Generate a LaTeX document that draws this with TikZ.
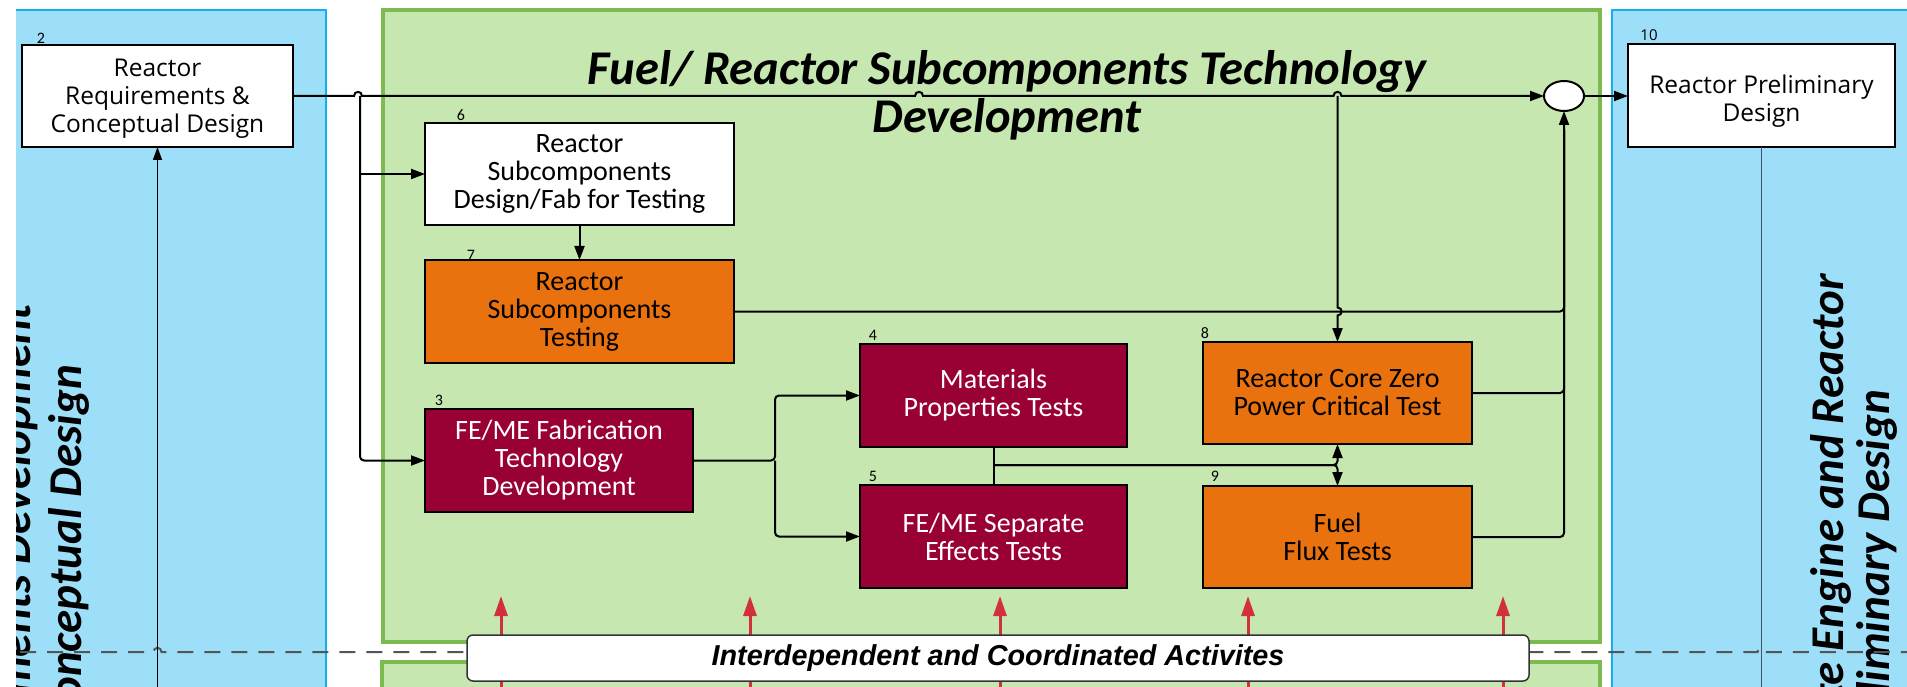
\documentclass[tikz,border=0pt]{standalone}
\usepackage{fontspec}
\setmainfont{Carlito}
\newfontfamily\opensans{Open Sans}
\newfontfamily\arialish{Liberation Sans}
\usetikzlibrary{arrows.meta,shapes.geometric}

\definecolor{laneblue}{HTML}{9DDFF8}
\definecolor{laneblueedge}{HTML}{12B0EE}
\definecolor{lanegreen}{HTML}{C6E8B0}
\definecolor{lanegreenedge}{HTML}{7DBB50}
\definecolor{testorange}{HTML}{E9710E}
\definecolor{devmaroon}{HTML}{990033}
\definecolor{linkred}{HTML}{D3303F}
\definecolor{dashgray}{HTML}{555555}
\definecolor{slateline}{HTML}{3D5566}
\definecolor{banneredge}{HTML}{333333}

\begin{document}
\begin{tikzpicture}[x=1pt,y=-1pt,
  every node/.style={inner sep=0pt,outer sep=0pt},
  procbox/.style={draw=black,line width=2.4pt,align=center,
    font=\fontsize{28}{28}\selectfont},
  whitebox/.style={procbox,fill=white},
  orangebox/.style={procbox,fill=testorange,text=black},
  maroonbox/.style={procbox,fill=devmaroon,text=white},
  reqbox/.style={draw=black,line width=2pt,fill=white,align=center,
    font=\opensans\fontsize{24.5}{28}\selectfont},
  num/.style={font=\fontsize{16}{16}\selectfont},
  lanetitle/.style={font=\bfseries\itshape\fontsize{47}{47}\selectfont},
  conn/.style={draw=black,line width=2pt},
  tip/.style={-{Triangle[length=14pt,width=10pt]}},
  redlink/.style={draw=linkred,line width=3pt,-{Triangle[length=20pt,width=13pt]}},
  lanedash/.style={draw=dashgray,line width=2pt,dash pattern=on 16pt off 11pt},
  banner/.style={draw=banneredge,line width=1.5pt,fill=white,rounded corners=6pt,
    font=\arialish\bfseries\itshape\fontsize{28.8}{28.8}\selectfont}
]
\useasboundingbox (0,0) rectangle (1907,687);
\fill[white] (0,0) rectangle (1907,687);

% ---- swim lanes ----
\fill[laneblue] (16,10) rectangle (326,700);
\draw[laneblueedge,line width=2.5pt] (16,10) -- (326,10) -- (326,700);
\fill[laneblue] (1612,10) rectangle (1920,700);
\draw[laneblueedge,line width=2.5pt] (1612,700) -- (1612,10) -- (1920,10);
\filldraw[fill=lanegreen,draw=lanegreenedge,line width=3.5pt] (383,10) rectangle (1600,642);
\filldraw[fill=lanegreen,draw=lanegreenedge,line width=3.5pt] (382,662) rectangle (1600,710);

% lane captions (running off the bottom edge)
\begin{scope}
  \clip (16,10) rectangle (326,687);
  \node[lanetitle,rotate=90,anchor=base east] (capL1) at (30,304) {Reactor Requirements Development};
  \node[lanetitle,rotate=90,anchor=base east] (capL2) at (81,365) {\& Conceptual Design};
\end{scope}
\begin{scope}
  \clip (1612,10) rectangle (1907,687);
  \node[lanetitle,rotate=90,anchor=base east] (capR1) at (1843,274) {Complete Engine and Reactor};
  \node[lanetitle,rotate=90,anchor=base east] (capR2) at (1889,390) {Preliminary Design};
\end{scope}

\node[font=\bfseries\itshape\fontsize{48.5}{48.5}\selectfont,anchor=base] (ttl1) at (1007,85) {Fuel/ Reactor Subcomponents Technology};
\node[font=\bfseries\itshape\fontsize{48.5}{48.5}\selectfont,anchor=base] (ttl2) at (1007,133) {Development};

% ---- boxes ----
\node[reqbox,minimum width=271,minimum height=102] (b2) at (157.5,96) {\rule{0pt}{22.5pt}Reactor\\Requirements \&\\Conceptual Design};
\node[reqbox,minimum width=267,minimum height=103] (b10) at (1761.5,96) {\rule{0pt}{28pt}Reactor Preliminary\\Design};
\node[whitebox,minimum width=309,minimum height=102] (b6) at (579.5,174) {Reactor\\Subcomponents\\Design/Fab for Testing};
\node[orangebox,minimum width=309,minimum height=103] (b7) at (579.5,311.5) {Reactor\\Subcomponents\\Testing};
\node[maroonbox,minimum width=268,minimum height=103] (b3) at (559,460.5) {FE/ME Fabrication\\Technology\\Development};
\node[maroonbox,minimum width=267,minimum height=103] (b4) at (993.5,395.5) {Materials\\Properties Tests};
\node[maroonbox,minimum width=267,minimum height=103] (b5) at (993.5,536.5) {FE/ME Separate\\Effects Tests};
\node[orangebox,minimum width=269,minimum height=102] (b8) at (1337.5,393) {Reactor Core Zero\\Power Critical Test};
\node[orangebox,minimum width=269,minimum height=102] (b9) at (1337.5,537) {Fuel\\Flux Tests};
\node[ellipse,draw=black,line width=2pt,fill=white,minimum width=40,minimum height=30] (ell) at (1564,96) {};

% step numbers
\node[num] (n2) at (41,38) {2};
\node[num] (n6) at (461,115) {6};
\node[num] (n7) at (471,255) {7};
\node[num] (n3) at (439,400) {3};
\node[num] (n4) at (873,335) {4};
\node[num] (n5) at (873,476) {5};
\node[num] (n8) at (1205,333) {8};
\node[num] (n9) at (1215,476) {9};
\node[num,font=\opensans\fontsize{15}{15}\selectfont] (n10) at (1649,35) {10};

% ---- lane boundary and cross-lane links ----
\coordinate (dashL) at (20,652);
\coordinate (dashR) at (1907,652);
\draw[lanedash] (dashL) -- (153.5,652) .. controls (153.5,646.5) and (161.5,646.5) .. (161.5,652)
  -- (1757.5,652) .. controls (1757.5,646.5) and (1765.5,646.5) .. (1765.5,652) -- (dashR);

\coordinate (reqIn) at (157.5,700);
\draw[draw=black,line width=1.5pt,-{Triangle[length=13pt,width=9pt]}] (reqIn) -- (b2.south);
\coordinate (prelOut) at (1761.5,700);
\draw[draw=slateline,line width=1.5pt] (b10.south) -- (prelOut);

\foreach \x [count=\i] in {501,750,1000,1248,1503} {
  \coordinate (rsrc\i) at (\x,700);
  \coordinate (rdst\i) at (\x,596);
  \draw[redlink] (rsrc\i) -- (rdst\i);
}
\node[banner,minimum width=1062,minimum height=46] (bn) at (998,658) {Interdependent and Coordinated Activites};

% ---- flow connectors ----
\coordinate (tapA) at (360,96);
\coordinate (tapB) at (1337.5,96);
\draw[conn,tip] (b2.east) -- (354,96) .. controls (354,90.5) and (362,90.5) .. (362,96)
  -- (915,96) .. controls (915,90.5) and (923,90.5) .. (923,96)
  -- (1333.5,96) .. controls (1333.5,90.5) and (1341.5,90.5) .. (1341.5,96) -- (ell.west);
\draw[conn,tip,rounded corners=4pt] (tapA) |- (b3.west);
\draw[conn,tip] (tapA |- b6.west) -- (b6.west);
\draw[conn,tip] (b6.south) -- (b7.north);
\draw[conn,tip] (tapB) -- (1337.5,307.5) .. controls (1343,307.5) and (1343,315.5) .. (1337.5,315.5) -- (b8.north);

\coordinate (split3) at (775,460.5);
\draw[conn,tip,rounded corners=4pt] (b3.east) -- (split3) |- (b4.west);
\draw[conn,tip,rounded corners=4pt] (split3) |- (b5.west);

\draw[conn] (b4.south) -- (b5.north);
\coordinate (m45) at (993.5,465);
\coordinate (m89) at (1337.5,465);
\draw[conn,tip,rounded corners=4pt] (m45) -- (m89) -- (b8.south);
\draw[conn,tip,rounded corners=4pt] (m45) -- (m89) -- (b9.north);

\coordinate (mtop) at (1564,130);
\draw[conn,rounded corners=4pt] (b7.east) -| (mtop);
\draw[conn,rounded corners=4pt] (b8.east) -| (mtop);
\draw[conn,tip,rounded corners=4pt] (b9.east) -| (ell.south);
\draw[conn,tip] (ell.east) -- (b10.west);
\end{tikzpicture}
\end{document}
